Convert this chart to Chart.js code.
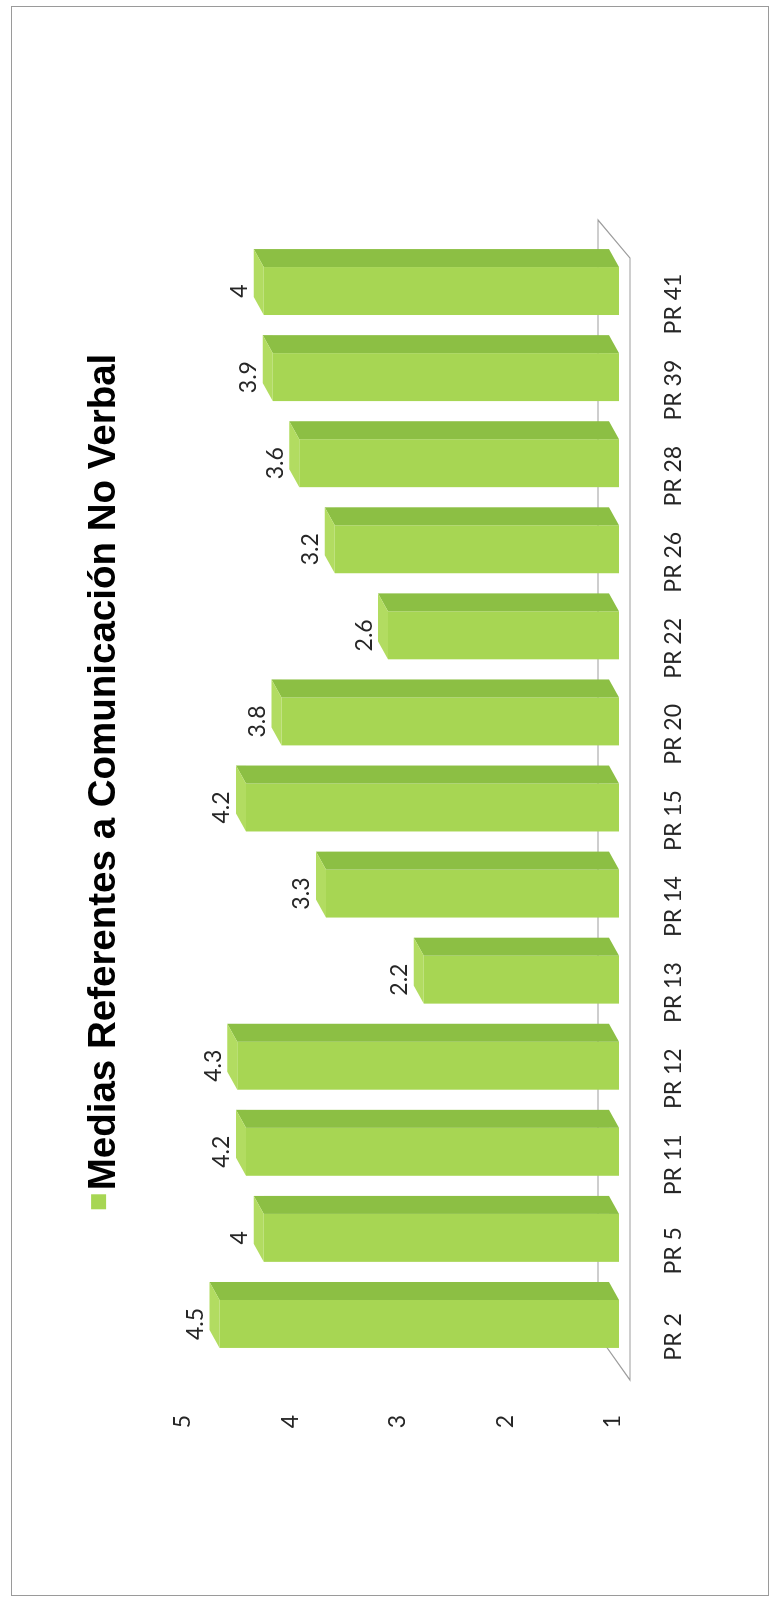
<!DOCTYPE html>
<html lang="es">
<head>
<meta charset="utf-8">
<title>Medias Referentes a Comunicación No Verbal</title>
<script src="https://cdn.jsdelivr.net/npm/chart.js@4.4.1/dist/chart.umd.min.js"></script>
<style>
  html, body { margin: 0; padding: 0; background: #fff; }
  #page { position: relative; width: 774px; height: 1604px; overflow: hidden; background: #fff; }
  /* the chart is laid out landscape and turned a quarter turn counter-clockwise */
  #turn { position: absolute; left: 0; top: 0; width: 1604px; height: 774px;
          transform-origin: 0 0; transform: translate(0, 1604px) rotate(-90deg); }
  #frame { position: absolute; left: 11px; top: 6px; width: 758px; height: 1590px;
           border: 1px solid #9a9a9a; box-sizing: border-box; pointer-events: none; }
</style>
</head>
<body>
<div id="page">
  <div id="turn"><canvas id="chart" width="1604" height="774"></canvas></div>
  <div id="frame"></div>
</div>
<script>
// categories and the mean score of each item
const categories = ['PR 2', 'PR 5', 'PR 11', 'PR 12', 'PR 13', 'PR 14', 'PR 15', 'PR 20', 'PR 22', 'PR 26', 'PR 28', 'PR 39', 'PR 41'];
const medias = [4.5, 4, 4.2, 4.3, 2.2, 3.3, 4.2, 3.8, 2.6, 3.2, 3.6, 3.9, 4];
const valueTicks = [1, 2, 3, 4, 5];
const seriesName = 'Medias Referentes a Comunicación No Verbal';

const FRONT = '#a7d653';
const SIDE = '#8cbf44';
const TOP = '#b2dc61';
const TEXT = '#262626';
const LABEL_FONT = { family: 'Lato, "Liberation Sans", sans-serif', size: 23 };
const TITLE_FONT = { family: '"Liberation Sans", Arial, sans-serif', size: 38.5, weight: 'bold', lineHeight: 1.2 };
const TITLE_PAD = { top: 71, bottom: 23.8 };

// floor of the 3D plot, drawn behind the bars
const floorPlugin = {
  id: 'floor',
  beforeDatasetsDraw(chart) {
    const { ctx, chartArea: { left, right, bottom } } = chart;
    ctx.save();
    ctx.strokeStyle = '#9d9d9d';
    ctx.lineWidth = 1.2;
    ctx.beginPath();
    ctx.moveTo(left - 13, bottom + 11);
    ctx.lineTo(right - 10, bottom + 11);
    ctx.lineTo(right + 28, bottom - 21);
    ctx.lineTo(left + 32, bottom - 21);
    ctx.closePath();
    ctx.stroke();
    ctx.restore();
  }
};

// depth faces and value labels for each bar
const depthPlugin = {
  id: 'depth',
  afterDatasetsDraw(chart) {
    const { ctx } = chart;
    const meta = chart.getDatasetMeta(0);
    const values = chart.data.datasets[0].data;
    const dx = 18, dy = -10;
    ctx.save();
    meta.data.forEach((bar, i) => {
      const { x, y, base, width } = bar.getProps(['x', 'y', 'base', 'width'], true);
      const l = x - width / 2, r = x + width / 2;
      ctx.fillStyle = SIDE;
      ctx.beginPath();
      ctx.moveTo(r, y); ctx.lineTo(r + dx, y + dy); ctx.lineTo(r + dx, base + dy); ctx.lineTo(r, base);
      ctx.closePath(); ctx.fill();
      ctx.fillStyle = TOP;
      ctx.beginPath();
      ctx.moveTo(l, y); ctx.lineTo(l + dx, y + dy); ctx.lineTo(r + dx, y + dy); ctx.lineTo(r, y);
      ctx.closePath(); ctx.fill();
      ctx.fillStyle = TEXT;
      ctx.font = `${LABEL_FONT.size}px ${LABEL_FONT.family}`;
      ctx.textAlign = 'center';
      ctx.textBaseline = 'middle';
      ctx.fillText(String(values[i]), x, y - 24);
    });
    ctx.restore();
  }
};

// series swatch placed just before the heading text
const swatchPlugin = {
  id: 'swatch',
  afterDraw(chart) {
    const { ctx, titleBlock: tb } = chart;
    if (!tb) return;
    ctx.save();
    ctx.font = `bold ${TITLE_FONT.size}px ${TITLE_FONT.family}`;
    const w = ctx.measureText(seriesName).width;
    const cx = (tb.left + tb.right) / 2;
    const cy = tb.top + TITLE_PAD.top + TITLE_FONT.size * TITLE_FONT.lineHeight / 2;
    const size = 15;
    ctx.fillStyle = FRONT;
    ctx.fillRect(cx - w / 2 - 4 - size, cy - 13, size, size);
    ctx.restore();
  }
};

new Chart(document.getElementById('chart'), {
  type: 'bar',
  data: {
    labels: categories,
    datasets: [{
      label: seriesName,
      data: medias,
      backgroundColor: FRONT,
      borderWidth: 0,
      categoryPercentage: 1,
      barPercentage: 0.557,
      xAxisID: 'x',
      yAxisID: 'y'
    }]
  },
  options: {
    responsive: false,
    animation: false,
    devicePixelRatio: 1,
    layout: { padding: { top: 10, left: 70, right: 10, bottom: 55 } },
    plugins: {
      legend: { display: false },
      tooltip: { enabled: false },
      title: {
        display: true,
        text: seriesName,
        color: '#000',
        font: TITLE_FONT,
        padding: TITLE_PAD
      }
    },
    scales: {
      x: {
        position: 'bottom',
        grid: { display: false, drawTicks: false },
        border: { display: false },
        ticks: { font: LABEL_FONT, color: TEXT, padding: 41, labelOffset: -13, maxRotation: 0, autoSkip: false },
        afterFit(s) { s.height = 100; }
      },
      y: {
        position: 'right',
        min: 0,
        max: 5.27,
        grid: { display: false, drawTicks: false },
        border: { display: false },
        ticks: { display: false },
        afterFit(s) { s.width = 238; }
      },
      yTicks: {
        position: 'left',
        min: 0.944,
        max: 5.297,
        grid: { display: false, drawTicks: false },
        border: { display: false },
        afterBuildTicks(s) { s.ticks = valueTicks.map(v => ({ value: v })); },
        ticks: { font: LABEL_FONT, color: TEXT, padding: 48 },
        afterFit(s) { s.width = 167; }
      }
    }
  },
  plugins: [floorPlugin, depthPlugin, swatchPlugin]
});
</script>
</body>
</html>
